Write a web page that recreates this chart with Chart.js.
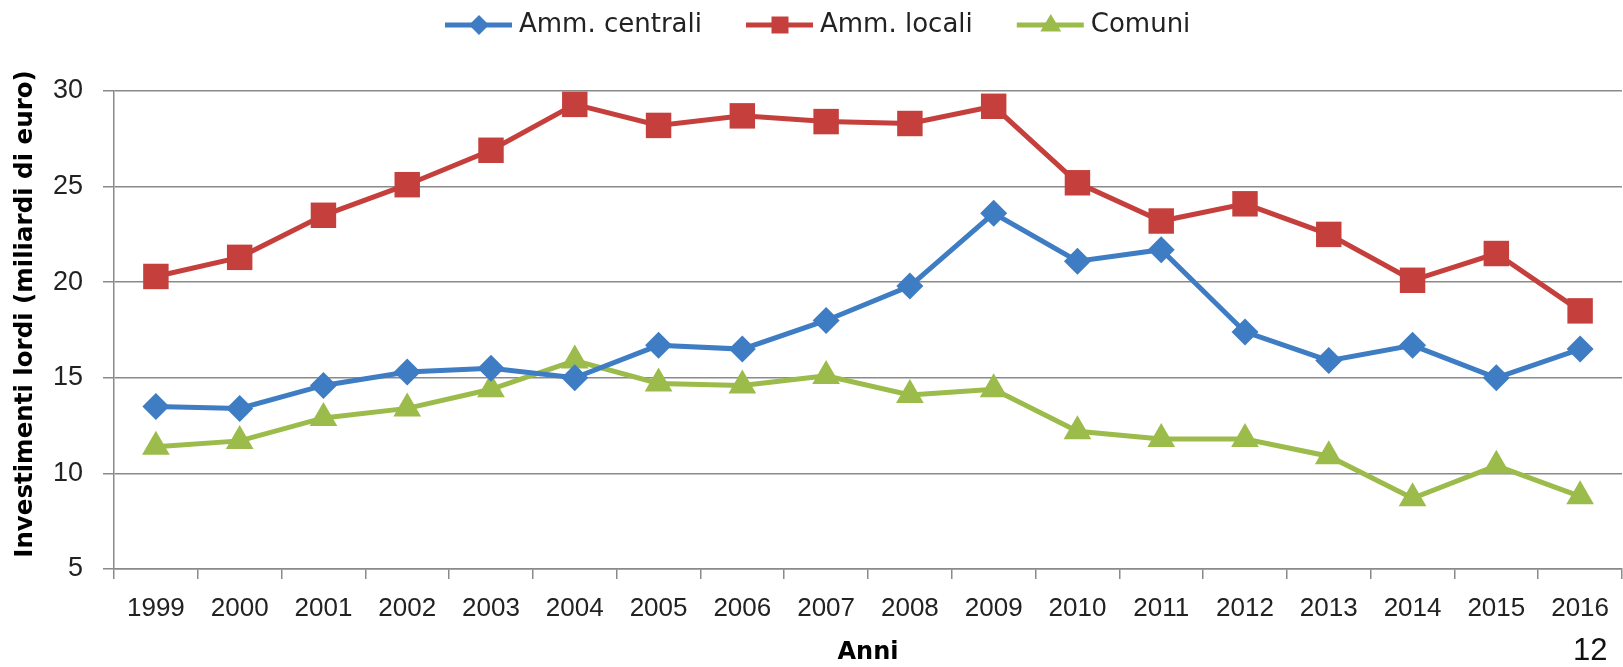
<!DOCTYPE html>
<html lang="it">
<head>
<meta charset="utf-8">
<title>Investimenti lordi 1999-2016</title>
<script src="https://cdn.jsdelivr.net/npm/chart.js@4.4.0/dist/chart.umd.min.js"></script>
<style>
    html, body { margin: 0; padding: 0; background: #fff; overflow: hidden; }
    #wrap { width: 1640px; height: 667px; position: relative; }
</style>
</head>
<body>
<div id="wrap"><canvas id="grafico"></canvas></div>
<script>
// Dati: investimenti lordi in miliardi di euro
const anni = ['1999', '2000', '2001', '2002', '2003', '2004', '2005', '2006', '2007',
              '2008', '2009', '2010', '2011', '2012', '2013', '2014', '2015', '2016'];
const ammCentrali = [13.5, 13.4, 14.6, 15.3, 15.5, 15.0, 16.7, 16.5, 18.0,
                     19.8, 23.6, 21.1, 21.7, 17.4, 15.9, 16.7, 15.0, 16.5];
const ammLocali = [20.3, 21.3, 23.5, 25.1, 26.9, 29.3, 28.2, 28.7, 28.4,
                   28.3, 29.2, 25.2, 23.2, 24.1, 22.5, 20.1, 21.5, 18.5];
const comuni = [11.4, 11.7, 12.9, 13.4, 14.4, 15.9, 14.7, 14.6, 15.1,
                14.1, 14.4, 12.2, 11.8, 11.8, 10.9, 8.7, 10.4, 8.8];
const yTicks = [5, 10, 15, 20, 25, 30];

const BLU = '#3E7CC3';
const ROSSO = '#C5403C';
const VERDE = '#9BBB4A';
const GRIGIO = '#8a8a8a';
const TESTO = '#222222';

// Serie con i rispettivi marker
const serie = [
    { label: 'Amm. centrali', data: ammCentrali, color: BLU, style: 'rectRot', radius: 13.5 },
    { label: 'Amm. locali', data: ammLocali, color: ROSSO, style: 'rect', radius: 18 },
    { label: 'Comuni', data: comuni, color: VERDE, style: 'triangle', radius: 16 }
];

// Disegno di un marker piccolo per la legenda
function disegnaMarker(ctx, style, x, y, r) {
    ctx.beginPath();
    if (style === 'rectRot') {
        ctx.moveTo(x, y - r);
        ctx.lineTo(x + r, y);
        ctx.lineTo(x, y + r);
        ctx.lineTo(x - r, y);
    } else if (style === 'rect') {
        ctx.rect(x - r, y - r, 2 * r, 2 * r);
    } else {
        ctx.moveTo(x, y - r);
        ctx.lineTo(x + r * 0.95, y + r * 0.6);
        ctx.lineTo(x - r * 0.95, y + r * 0.6);
    }
    ctx.closePath();
    ctx.fill();
}

// Legenda (linea + marker), titolo asse Y e numero di pagina
const decorazioni = {
    id: 'decorazioni',
    afterDraw(chart) {
        const ctx = chart.ctx;
        ctx.save();

        // Legenda
        ctx.font = '26px "DejaVu Sans"';
        ctx.textBaseline = 'middle';
        ctx.textAlign = 'left';
        let x = 445;
        const yLeg = 25;
        const markerSize = { rectRot: 10, rect: 8.5, triangle: 11 };
        serie.forEach(s => {
            ctx.strokeStyle = s.color;
            ctx.fillStyle = s.color;
            ctx.lineWidth = 5;
            ctx.beginPath();
            ctx.moveTo(x, yLeg);
            ctx.lineTo(x + 67, yLeg);
            ctx.stroke();
            disegnaMarker(ctx, s.style, x + 34, yLeg, markerSize[s.style]);
            ctx.fillStyle = TESTO;
            ctx.fillText(s.label, x + 74, yLeg);
            x += 74 + ctx.measureText(s.label).width + 44;
        });

        // Titolo asse Y
        ctx.save();
        ctx.translate(26, 314);
        ctx.rotate(-Math.PI / 2);
        ctx.font = 'bold 24.5px "DejaVu Sans"';
        ctx.textAlign = 'center';
        ctx.fillStyle = '#000';
        ctx.fillText('Investimenti lordi (miliardi di euro)', 0, 0);
        ctx.restore();

        // Numero di pagina
        ctx.font = '31px "Liberation Sans"';
        ctx.textAlign = 'left';
        ctx.textBaseline = 'alphabetic';
        ctx.fillStyle = '#111';
        ctx.fillText('12', 1573, 660);

        ctx.restore();
    }
};

const config = {
    type: 'line',
    data: {
        labels: anni,
        datasets: serie.map(s => ({
            label: s.label,
            data: s.data,
            borderColor: s.color,
            backgroundColor: s.color,
            borderWidth: 5,
            pointStyle: s.style,
            pointRadius: s.radius,
            pointBorderWidth: 0,
            pointBackgroundColor: s.color,
            tension: 0,
            fill: false
        }))
    },
    options: {
        responsive: false,
        animation: false,
        layout: { padding: { top: 91, right: 10, left: 0, bottom: 0 } },
        plugins: {
            legend: { display: false },
            tooltip: { enabled: false }
        },
        scales: {
            x: {
                offset: true,
                grid: {
                    offset: true,
                    drawOnChartArea: false,
                    drawTicks: true,
                    tickLength: 10,
                    color: GRIGIO,
                    lineWidth: 1.5
                },
                border: { color: GRIGIO, width: 1.5 },
                ticks: {
                    color: TESTO,
                    font: { family: 'Liberation Sans', size: 26 },
                    padding: 14,
                    maxRotation: 0,
                    autoSkip: false
                },
                title: {
                    display: true,
                    text: 'Anni',
                    color: '#000',
                    font: { family: 'DejaVu Sans', size: 24, weight: 'bold' },
                    padding: { top: 0, bottom: 0 }
                },
                afterFit(scale) { scale.height = 98; }
            },
            y: {
                min: 5,
                max: 30,
                afterBuildTicks(scale) { scale.ticks = yTicks.map(v => ({ value: v })); },
                grid: {
                    color: GRIGIO,
                    lineWidth: 1.5,
                    tickLength: 11
                },
                border: { color: GRIGIO, width: 1.5 },
                ticks: {
                    color: TESTO,
                    font: { family: 'Liberation Sans', size: 27 },
                    padding: 20
                },
                afterFit(scale) { scale.width = 114; }
            }
        }
    },
    plugins: [decorazioni]
};

const canvas = document.getElementById('grafico');
canvas.width = 1640;
canvas.height = 667;
canvas.style.width = '1640px';
canvas.style.height = '667px';
new Chart(canvas.getContext('2d'), config);
</script>
</body>
</html>
